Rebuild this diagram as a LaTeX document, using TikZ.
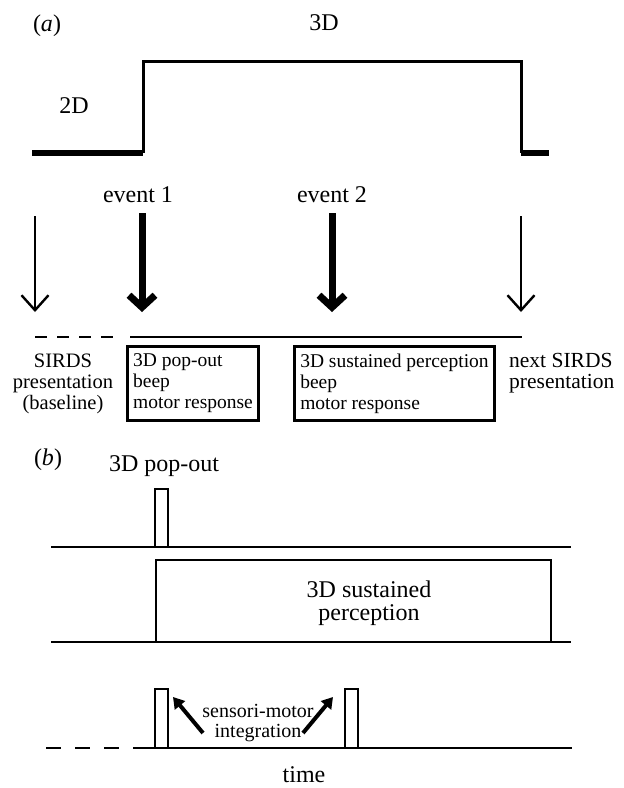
\documentclass[tikz,border=0pt]{standalone}
\usepackage{fontspec}
\setmainfont{Liberation Serif}
\usetikzlibrary{arrows.meta}

\tikzset{
    lbl/.style={font=\fontsize{24}{23}\selectfont, inner sep=0pt, align=center},
    txt/.style={font=\fontsize{20.5}{21}\selectfont, inner sep=0pt},
    txtbox/.style={draw, line width=3pt, font=\fontsize{19.5}{21}\selectfont,
        align=left, inner ysep=0pt, minimum height=74pt},
    sig/.style={line width=2.8pt},
    level/.style={line width=6pt},
    thinarrow/.style={line width=2.4pt, -{Straight Barb[length=15pt,width=27pt]}},
    thickarrow/.style={line width=7pt, -{Straight Barb[length=12pt,width=26pt]}},
    linkarrow/.style={line width=4pt, -{Triangle[length=11pt,width=13pt]}},
}

\begin{document}
\begin{tikzpicture}[x=1pt, y=-1pt]
    \useasboundingbox (0,0) rectangle (624,788);

    % (a) stimulus
    \node[lbl] at (47,26)   (labA) {(\textit{a})};
    \node[lbl] at (324,23)  (thd)  {3D};
    \node[lbl] at (74,106)  (twd)  {2D};
    \node[lbl] at (138,195) (evA)  {event 1};
    \node[lbl] at (332,195) (evB)  {event 2};

    \coordinate (l0) at (32,153);
    \coordinate (l1) at (143,153);
    \coordinate (u1) at (143,61);
    \coordinate (u2) at (521,61);
    \coordinate (l2) at (521,153);
    \coordinate (l3) at (549,153);

    \draw[level] (l0) -- (l1);
    \draw[sig, line width=3pt] (l1) -- (u1) -- (u2) -- (l2);
    \draw[level] (l2) -- (l3);

    \coordinate (sA) at (35,216);   \coordinate (eA) at (35,312);
    \coordinate (sB) at (142,213);  \coordinate (eB) at (142,312);
    \coordinate (sC) at (332,213);  \coordinate (eC) at (332,312);
    \coordinate (sD) at (521,216);  \coordinate (eD) at (521,312);

    \draw[thinarrow]  (sA) -- (eA);
    \draw[thickarrow] (sB) -- (eB);
    \draw[thickarrow] (sC) -- (eC);
    \draw[thinarrow]  (sD) -- (eD);

    \coordinate (t0) at (35,337);
    \coordinate (t1) at (115,337);
    \coordinate (t2) at (130,337);
    \coordinate (t3) at (522,337);

    \draw[sig, dash pattern=on 12pt off 10pt] (t0) -- (t1);
    \draw[sig] (t2) -- (t3);

    \node[txt, align=center] at (63,384) (base) {SIRDS\\presentation\\(baseline)};
    \node[txtbox, minimum width=131pt, inner xsep=5.5pt] at (193,383.5) (popA)
        {3D pop-out\\beep\\motor response};
    \node[txtbox, minimum width=200pt, inner xsep=6pt] at (394.5,383.5) (susA)
        {3D sustained perception\\beep\\motor response};
    \node[txt, align=left, anchor=west, font=\fontsize{21.5}{21}\selectfont]
        at (509,373) (next) {next SIRDS\\presentation};

    % (b) responses
    \node[lbl] at (48,460)  (labB) {(\textit{b})};
    \node[lbl] at (164,466) (pop)  {3D pop-out};

    \coordinate (p0) at (51,547);
    \coordinate (p1) at (155,547);
    \coordinate (p2) at (155,489);
    \coordinate (p3) at (168,489);
    \coordinate (p4) at (168,547);
    \coordinate (p5) at (571,547);
    \draw[sig] (p0) -- (p5);
    \draw[sig] (p1) -- (p2) -- (p3) -- (p4);

    \coordinate (q0) at (51,642);
    \coordinate (q1) at (156,642);
    \coordinate (q2) at (156,560);
    \coordinate (q3) at (551,560);
    \coordinate (q4) at (551,642);
    \coordinate (q5) at (571,642);
    \draw[sig] (q0) -- (q5);
    \draw[sig] (q1) -- (q2) -- (q3) -- (q4);
    \node[lbl] at (369,603) (sus) {3D sustained\\perception};

    \coordinate (r0) at (46,748);
    \coordinate (r1) at (142,748);
    \coordinate (r2) at (572,748);
    \draw[sig, dash pattern=on 15pt off 14pt] (r0) -- (r1);
    \draw[sig] (r1) -- (r2);

    \coordinate (m1) at (155,748);
    \coordinate (m2) at (155,689);
    \coordinate (m3) at (168,689);
    \coordinate (m4) at (168,748);
    \draw[sig] (m1) -- (m2) -- (m3) -- (m4);

    \coordinate (n1) at (345,748);
    \coordinate (n2) at (345,689);
    \coordinate (n3) at (358,689);
    \coordinate (n4) at (358,748);
    \draw[sig] (n1) -- (n2) -- (n3) -- (n4);

    \node[txt, align=center, font=\fontsize{20}{20}\selectfont] at (258,723) (integ)
        {sensori-motor\\integration};
    \coordinate (ka) at (203,733);  \coordinate (kb) at (173,697);
    \coordinate (kc) at (303,733);  \coordinate (kd) at (333,697);
    \draw[linkarrow] (ka) -- (kb);
    \draw[linkarrow] (kc) -- (kd);

    \node[lbl] at (304,775) (time) {time};
\end{tikzpicture}
\end{document}
